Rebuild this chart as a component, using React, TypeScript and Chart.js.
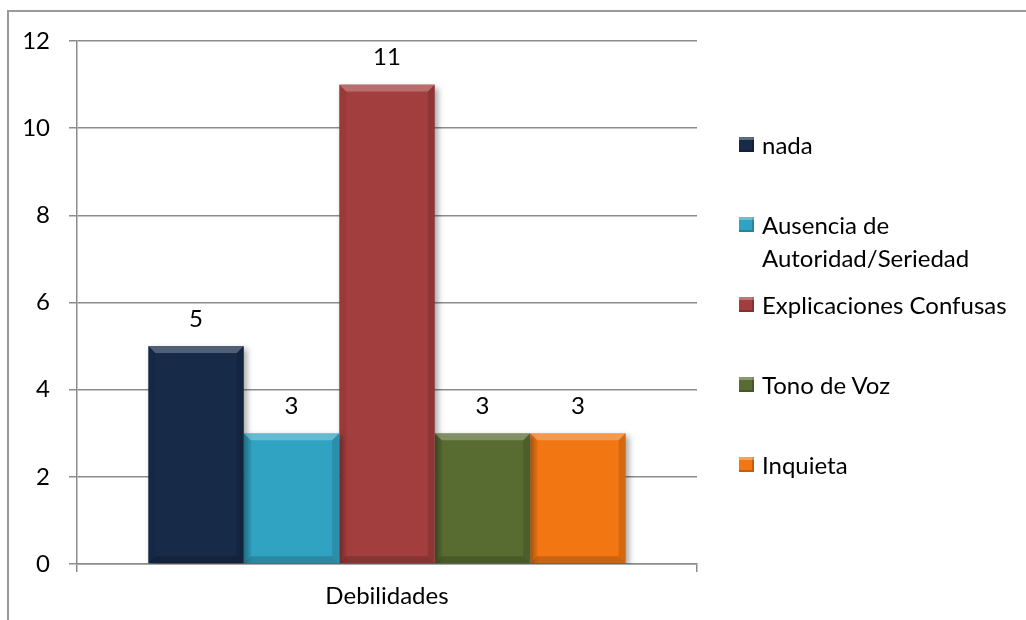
import React, { useEffect, useRef } from 'react';
import { Chart, registerables } from 'chart.js';

Chart.register(...registerables);

const categories = ['Debilidades'];
const seriesNames = ['nada', 'Ausencia de Autoridad/Seriedad', 'Explicaciones Confusas', 'Tono de Voz', 'Inquieta'];
const legendLines = [['nada'], ['Ausencia de', 'Autoridad/Seriedad'], ['Explicaciones Confusas'], ['Tono de Voz'], ['Inquieta']];
const seriesValues = [5, 3, 11, 3, 3];
const seriesColors = ['#172a48', '#31a3c2', '#a23e3d', '#586c32', '#f27713'];
const yMin = 0;
const yMax = 12;
const yStep = 2;

const FONT_FAMILY = 'Lato, "Open Sans", sans-serif';
const FONT_SIZE = 24;

const shadowPlugin = {
  id: 'barShadow',
  beforeDatasetsDraw(chart: any) {
    const ctx = chart.ctx;
    ctx.save();
    ctx.shadowColor = 'rgba(0,0,0,0.35)';
    ctx.shadowBlur = 6;
    ctx.shadowOffsetX = 3;
    ctx.shadowOffsetY = 3;
  },
  afterDatasetsDraw(chart: any) {
    chart.ctx.restore();
  },
};

const bevelPlugin = {
  id: 'bevel',
  afterDatasetsDraw(chart: any) {
    const ctx = chart.ctx;
    chart.data.datasets.forEach((_ds: any, i: number) => {
      const meta = chart.getDatasetMeta(i);
      meta.data.forEach((bar: any) => {
        const { x, y, base, width } = bar.getProps(['x', 'y', 'base', 'width'], true);
        const l = x - width / 2;
        const r = x + width / 2;
        const t = y;
        const b = base;
        const d = 7;
        ctx.save();
        const poly = (pts: number[][], fill: string) => {
          ctx.fillStyle = fill;
          ctx.beginPath();
          ctx.moveTo(pts[0][0], pts[0][1]);
          for (let k = 1; k < pts.length; k++) ctx.lineTo(pts[k][0], pts[k][1]);
          ctx.closePath();
          ctx.fill();
        };
        poly([[l, t], [r, t], [r - d, t + d], [l + d, t + d]], 'rgba(255,255,255,0.25)');
        poly([[l, t], [l + d, t + d], [l + d, b - d], [l, b]], 'rgba(0,0,0,0.05)');
        poly([[r, t], [r - d, t + d], [r - d, b - d], [r, b]], 'rgba(0,0,0,0.12)');
        poly([[l, b], [l + d, b - d], [r - d, b - d], [r, b]], 'rgba(0,0,0,0.16)');
        ctx.restore();
      });
    });
  },
};

const valueLabelPlugin = {
  id: 'valueLabels',
  afterDatasetsDraw(chart: any) {
    const ctx = chart.ctx;
    ctx.save();
    ctx.font = `${FONT_SIZE}px ${FONT_FAMILY}`;
    ctx.fillStyle = '#000';
    ctx.textAlign = 'center';
    ctx.textBaseline = 'middle';
    chart.data.datasets.forEach((ds: any, i: number) => {
      const meta = chart.getDatasetMeta(i);
      meta.data.forEach((bar: any, j: number) => {
        const { x, y } = bar.getProps(['x', 'y'], true);
        ctx.fillText(String(ds.data[j]), x, y - 27);
      });
    });
    ctx.restore();
  },
};

export default function App() {
  const canvasRef = useRef<HTMLCanvasElement | null>(null);

  useEffect(() => {
    if (!canvasRef.current) return;
    const chart = new Chart(canvasRef.current, {
      type: 'bar',
      data: {
        labels: categories,
        datasets: seriesNames.map((name, i) => ({
          label: name,
          data: [seriesValues[i]],
          backgroundColor: seriesColors[i],
          borderWidth: 0,
        })),
      },
      options: {
        responsive: false,
        animation: false,
        datasets: {
          bar: { categoryPercentage: 0.77, barPercentage: 1 },
        },
        layout: { padding: { left: 0, top: 41, right: 329, bottom: 0 } },
        plugins: {
          legend: { display: false },
          tooltip: { enabled: false },
        },
        scales: {
          x: {
            offset: true,
            grid: {
              display: true,
              drawOnChartArea: false,
              drawTicks: true,
              tickLength: 8,
              color: '#8c8c8c',
              lineWidth: 1.5,
              offset: true,
            },
            border: { display: true, color: '#8c8c8c', width: 1.5 },
            ticks: {
              color: '#000',
              font: { family: FONT_FAMILY, size: FONT_SIZE },
              padding: 10,
            },
            afterFit: (s: any) => {
              s.height = 56;
            },
          },
          y: {
            min: yMin,
            max: yMax,
            ticks: {
              stepSize: yStep,
              color: '#000',
              padding: 19,
              font: { family: FONT_FAMILY, size: FONT_SIZE },
            },
            grid: { color: '#8c8c8c', lineWidth: 1.5, tickLength: 8 },
            border: { display: true, color: '#8c8c8c', width: 1.5 },
            afterFit: (s: any) => {
              s.width = 77;
            },
          },
        },
      },
      plugins: [shadowPlugin, bevelPlugin, valueLabelPlugin],
    });
    return () => chart.destroy();
  }, []);

  const legendTop = 144;
  const legendStep = 80;
  const lineH = 33;

  return (
    <div
      style={{
        position: 'absolute',
        left: 0,
        top: 0,
        width: 1026,
        height: 620,
        overflow: 'hidden',
        background: '#fff',
        fontFamily: FONT_FAMILY,
      }}
    >
      <div
        style={{
          position: 'absolute',
          left: 7,
          top: 10,
          width: 1200,
          height: 800,
          borderLeft: '2px solid #999',
          borderTop: '2px solid #999',
        }}
      />
      <canvas ref={canvasRef} width={1026} height={620} style={{ position: 'absolute', left: 0, top: 0 }} />
      {legendLines.map((lines, i) => (
        <div
          key={i}
          style={{
            position: 'absolute',
            left: 739,
            top: legendTop + legendStep * i - lineH / 2,
            display: 'flex',
            alignItems: 'flex-start',
          }}
        >
          <div
            style={{
              width: 15,
              height: 15,
              marginTop: (lineH - 15) / 2,
              background: seriesColors[i],
              boxShadow: 'inset 0 3px 0 rgba(255,255,255,0.3), inset -2px -2px 0 rgba(0,0,0,0.2)',
            }}
          />
          <div
            style={{
              marginLeft: 8,
              fontSize: FONT_SIZE,
              lineHeight: `${lineH}px`,
              color: '#000',
              whiteSpace: 'nowrap',
            }}
          >
            {lines.map((ln, k) => (
              <div key={k}>{ln}</div>
            ))}
          </div>
        </div>
      ))}
    </div>
  );
}
